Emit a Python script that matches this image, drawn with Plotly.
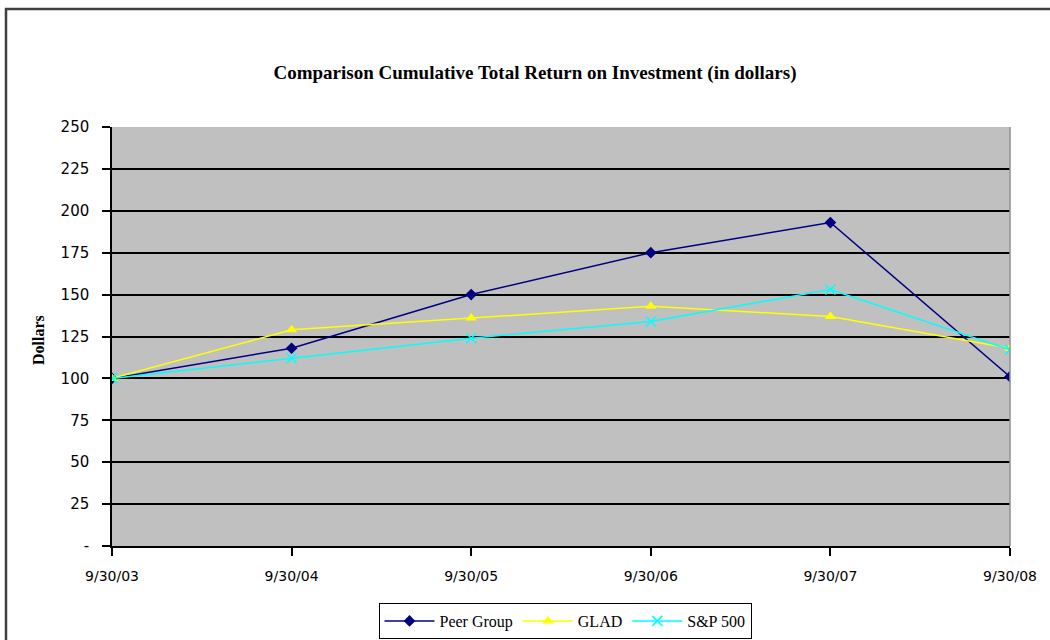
import plotly.graph_objects as go

categories = ["9/30/03", "9/30/04", "9/30/05", "9/30/06", "9/30/07", "9/30/08"]
peer_group = [100, 118, 150, 175, 193, 101]
glad = [100, 129, 136, 143, 137, 118]
sp500 = [100, 112, 124, 134, 153, 117]
y_ticks = [0, 25, 50, 75, 100, 125, 150, 175, 200, 225, 250]
y_ticktext = ["-"] + [str(v) for v in y_ticks[1:]]

xpos = list(range(len(categories)))

fig = go.Figure()
fig.add_trace(go.Scatter(x=xpos, y=peer_group, name="Peer Group", mode="lines+markers",
                         line=dict(color="#000080", width=1.5),
                         marker=dict(symbol="diamond", size=9, color="#000080")))
fig.add_trace(go.Scatter(x=xpos, y=glad, name="GLAD", mode="lines+markers",
                         line=dict(color="#FFFF00", width=1.5),
                         marker=dict(symbol="triangle-up", size=10, color="#FFFF00")))
fig.add_trace(go.Scatter(x=xpos, y=sp500, name="S&P 500", mode="lines+markers",
                         line=dict(color="#00FFFF", width=1.5),
                         marker=dict(symbol="x-thin", size=10,
                                     line=dict(color="#00FFFF", width=1.5))))

L, R, T, B = 112, 40, 127, 94
pw, ph = 1050 - L - R, 640 - T - B

def px_x(p):
    return (p - L) / pw

def px_y(p):
    return (640 - B - p) / ph

fig.update_layout(
    width=1050, height=640,
    margin=dict(l=L, r=R, t=T, b=B, autoexpand=False),
    paper_bgcolor="white",
    plot_bgcolor="#C0C0C0",
    title=dict(text="<b>Comparison Cumulative Total Return on Investment (in dollars)</b>",
               x=535 / 1050, xanchor="center", y=1 - 72 / 640, yanchor="middle",
               font=dict(family="Liberation Serif", size=19, color="black")),
    xaxis=dict(range=[0, 5], tickvals=xpos, ticktext=categories,
               showgrid=False, zeroline=False, showline=True, linecolor="black", linewidth=1.5,
               ticks="outside", ticklen=8, tickcolor="black", tickwidth=1.5,
               ticklabelstandoff=8,
               tickfont=dict(family="DejaVu Sans", size=14, color="black")),
    yaxis=dict(range=[0, 250], tickvals=y_ticks, ticktext=y_ticktext,
               showgrid=True, gridcolor="black", gridwidth=1.5, zeroline=False,
               showline=True, linecolor="black", linewidth=1.5,
               ticks="outside", ticklen=8, tickcolor="black", tickwidth=1.5,
               ticklabelstandoff=10,
               tickfont=dict(family="DejaVu Sans", size=15, color="black")),
    showlegend=True,
    legend=dict(orientation="h", x=px_x(565), xanchor="center", y=px_y(621), yanchor="middle",
                bordercolor="black", borderwidth=1, bgcolor="white",
                font=dict(family="Liberation Serif", size=16, color="black"),
                itemwidth=50, tracegroupgap=0),
    annotations=[dict(text="<b>Dollars</b>", textangle=-90, xref="paper", yref="paper",
                      x=px_x(38), y=px_y(340), xanchor="center", yanchor="middle",
                      showarrow=False,
                      font=dict(family="Liberation Serif", size=16, color="black"))],
    shapes=[
        dict(type="rect", xref="paper", yref="paper",
             x0=px_x(6), x1=px_x(1070), y0=px_y(660), y1=px_y(9),
             line=dict(color="#404040", width=2.5), fillcolor="rgba(0,0,0,0)", layer="below"),
        dict(type="line", xref="paper", yref="paper", x0=1, x1=1, y0=0, y1=1,
             line=dict(color="#909090", width=1.5)),
    ],
)

fig.write_html("out.html")
